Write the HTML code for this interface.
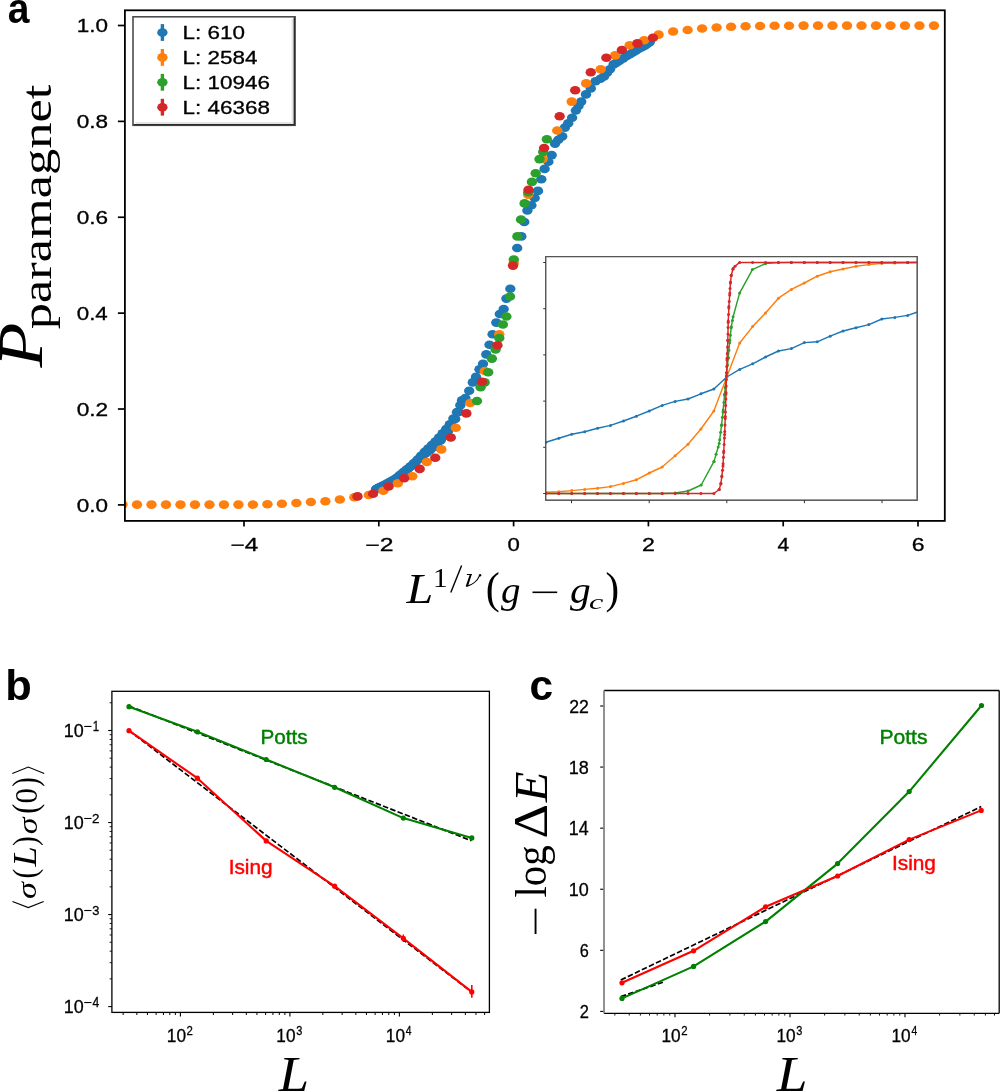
<!DOCTYPE html>
<html><head><meta charset="utf-8"><title>Figure</title><style>
html,body{margin:0;padding:0;background:#fff;width:1000px;height:1091px;overflow:hidden}
svg{display:block;will-change:transform}
</style></head><body>
<svg width="1000" height="1091" viewBox="0 0 1000 1091">
<defs><clipPath id="ca"><rect x="124.9" y="10.3" width="819.9" height="510.6"/></clipPath>
<clipPath id="cb"><rect x="112" y="691.5" width="377.6" height="320.5"/></clipPath>
<clipPath id="cc"><rect x="604" y="690.5" width="396" height="323"/></clipPath>
<clipPath id="ci"><rect x="545.7" y="256.6" width="371.5" height="243.6"/></clipPath>
</defs>
<rect x="0" y="0" width="1000" height="1091" fill="#fff"/>
<g clip-path="url(#ca)">
<g fill="#1f77b4">
<ellipse cx="376" cy="489" rx="5.2" ry="4.3"/>
<ellipse cx="377.8" cy="488.11" rx="5.2" ry="4.3"/>
<ellipse cx="379.6" cy="487.28" rx="5.2" ry="4.3"/>
<ellipse cx="381.4" cy="486.34" rx="5.2" ry="4.3"/>
<ellipse cx="383.2" cy="485.55" rx="5.2" ry="4.3"/>
<ellipse cx="385" cy="484.5" rx="5.2" ry="4.3"/>
<ellipse cx="386.8" cy="483.73" rx="5.2" ry="4.3"/>
<ellipse cx="388.6" cy="482.63" rx="5.2" ry="4.3"/>
<ellipse cx="390.4" cy="481.87" rx="5.2" ry="4.3"/>
<ellipse cx="392.2" cy="480.6" rx="5.2" ry="4.3"/>
<ellipse cx="394" cy="479.8" rx="5.2" ry="4.3"/>
<ellipse cx="395.8" cy="478.47" rx="5.2" ry="4.3"/>
<ellipse cx="397.6" cy="477.33" rx="5.2" ry="4.3"/>
<ellipse cx="399.4" cy="475.49" rx="5.2" ry="4.3"/>
<ellipse cx="401.2" cy="474.36" rx="5.2" ry="4.3"/>
<ellipse cx="403" cy="472.46" rx="5.2" ry="4.3"/>
<ellipse cx="404.8" cy="471.39" rx="5.2" ry="4.3"/>
<ellipse cx="406.6" cy="469.5" rx="5.2" ry="4.3"/>
<ellipse cx="408.4" cy="468.53" rx="5.2" ry="4.3"/>
<ellipse cx="410.2" cy="466.56" rx="5.2" ry="4.3"/>
<ellipse cx="412" cy="465.44" rx="5.2" ry="4.3"/>
<ellipse cx="413.8" cy="463.23" rx="5.2" ry="4.3"/>
<ellipse cx="415.6" cy="462.16" rx="5.2" ry="4.3"/>
<ellipse cx="417.4" cy="459.67" rx="5.2" ry="4.3"/>
<ellipse cx="419.2" cy="458.98" rx="5.2" ry="4.3"/>
<ellipse cx="421" cy="455.73" rx="5.2" ry="4.3"/>
<ellipse cx="422.8" cy="455.82" rx="5.2" ry="4.3"/>
<ellipse cx="424.6" cy="451.92" rx="5.2" ry="4.3"/>
<ellipse cx="426.4" cy="453.01" rx="5.2" ry="4.3"/>
<ellipse cx="428.2" cy="448.44" rx="5.2" ry="4.3"/>
<ellipse cx="430" cy="450.3" rx="5.2" ry="4.3"/>
<ellipse cx="431.8" cy="444.96" rx="5.2" ry="4.3"/>
<ellipse cx="433.6" cy="447.19" rx="5.2" ry="4.3"/>
<ellipse cx="435.4" cy="441.47" rx="5.2" ry="4.3"/>
<ellipse cx="437.2" cy="443.89" rx="5.2" ry="4.3"/>
<ellipse cx="439" cy="437.52" rx="5.2" ry="4.3"/>
<ellipse cx="440.8" cy="440.22" rx="5.2" ry="4.3"/>
<ellipse cx="442.6" cy="433.39" rx="5.2" ry="4.3"/>
<ellipse cx="444.4" cy="435.78" rx="5.2" ry="4.3"/>
<ellipse cx="446.2" cy="429.02" rx="5.2" ry="4.3"/>
<ellipse cx="448" cy="430.9" rx="5.2" ry="4.3"/>
<ellipse cx="449.8" cy="424.25" rx="5.2" ry="4.3"/>
<ellipse cx="451.6" cy="425.65" rx="5.2" ry="4.3"/>
<ellipse cx="453.4" cy="418.54" rx="5.2" ry="4.3"/>
<ellipse cx="455.2" cy="418.89" rx="5.2" ry="4.3"/>
<ellipse cx="457" cy="412.15" rx="5.2" ry="4.3"/>
<ellipse cx="458.8" cy="412.03" rx="5.2" ry="4.3"/>
<ellipse cx="460.3" cy="405.2" rx="5.2" ry="4.3"/>
<ellipse cx="462" cy="400.4" rx="5.2" ry="4.3"/>
<ellipse cx="465.4" cy="398.1" rx="5.2" ry="4.3"/>
<ellipse cx="469.2" cy="390.8" rx="5.2" ry="4.3"/>
<ellipse cx="472.8" cy="382.4" rx="5.2" ry="4.3"/>
<ellipse cx="476" cy="376.9" rx="5.2" ry="4.3"/>
<ellipse cx="479.5" cy="369.2" rx="5.2" ry="4.3"/>
<ellipse cx="483" cy="363.8" rx="5.2" ry="4.3"/>
<ellipse cx="486.3" cy="354.4" rx="5.2" ry="4.3"/>
<ellipse cx="489.5" cy="344.8" rx="5.2" ry="4.3"/>
<ellipse cx="492.6" cy="334.2" rx="5.2" ry="4.3"/>
<ellipse cx="496.3" cy="322.6" rx="5.2" ry="4.3"/>
<ellipse cx="499.8" cy="314" rx="5.2" ry="4.3"/>
<ellipse cx="503.7" cy="309" rx="5.2" ry="4.3"/>
<ellipse cx="506.4" cy="298.6" rx="5.2" ry="4.3"/>
<ellipse cx="510.3" cy="288.7" rx="5.2" ry="4.3"/>
<ellipse cx="517.2" cy="248" rx="5.2" ry="4.3"/>
<ellipse cx="521.3" cy="236.4" rx="5.2" ry="4.3"/>
<ellipse cx="524.3" cy="222" rx="5.2" ry="4.3"/>
<ellipse cx="527.4" cy="210.5" rx="5.2" ry="4.3"/>
<ellipse cx="531.4" cy="205.2" rx="5.2" ry="4.3"/>
<ellipse cx="534.7" cy="198" rx="5.2" ry="4.3"/>
<ellipse cx="538" cy="190.9" rx="5.2" ry="4.3"/>
<ellipse cx="541.3" cy="179.3" rx="5.2" ry="4.3"/>
<ellipse cx="544.6" cy="168.9" rx="5.2" ry="4.3"/>
<ellipse cx="548.4" cy="161.7" rx="5.2" ry="4.3"/>
<ellipse cx="551.7" cy="155.1" rx="5.2" ry="4.3"/>
<ellipse cx="555" cy="143.6" rx="5.2" ry="4.3"/>
<ellipse cx="558.3" cy="139.7" rx="5.2" ry="4.3"/>
<ellipse cx="562.2" cy="136.4" rx="5.2" ry="4.3"/>
<ellipse cx="564.9" cy="127.6" rx="5.2" ry="4.3"/>
<ellipse cx="568.2" cy="123.2" rx="5.2" ry="4.3"/>
<ellipse cx="572.1" cy="117.7" rx="5.2" ry="4.3"/>
<ellipse cx="575.9" cy="110.5" rx="5.2" ry="4.3"/>
<ellipse cx="578.5" cy="106" rx="5.2" ry="4.3"/>
<ellipse cx="581.2" cy="101.6" rx="5.2" ry="4.3"/>
<ellipse cx="586" cy="94.4" rx="5.2" ry="4.3"/>
<ellipse cx="590.8" cy="88.4" rx="5.2" ry="4.3"/>
<ellipse cx="595.6" cy="81.2" rx="5.2" ry="4.3"/>
<ellipse cx="600.4" cy="78.8" rx="5.2" ry="4.3"/>
<ellipse cx="604" cy="76.4" rx="5.2" ry="4.3"/>
<ellipse cx="607" cy="72.8" rx="5.2" ry="4.3"/>
<ellipse cx="610" cy="69.2" rx="5.2" ry="4.3"/>
<ellipse cx="613.6" cy="64.4" rx="5.2" ry="4.3"/>
<ellipse cx="616.6" cy="62.6" rx="5.2" ry="4.3"/>
<ellipse cx="619.6" cy="60.8" rx="5.2" ry="4.3"/>
<ellipse cx="623.2" cy="58.4" rx="5.2" ry="4.3"/>
<ellipse cx="626.8" cy="56" rx="5.2" ry="4.3"/>
<ellipse cx="629.8" cy="54.2" rx="5.2" ry="4.3"/>
<ellipse cx="632.8" cy="52.4" rx="5.2" ry="4.3"/>
<ellipse cx="635.8" cy="50.6" rx="5.2" ry="4.3"/>
<ellipse cx="638.8" cy="48.8" rx="5.2" ry="4.3"/>
<ellipse cx="641.8" cy="47.3" rx="5.2" ry="4.3"/>
<ellipse cx="644.8" cy="45.8" rx="5.2" ry="4.3"/>
<ellipse cx="647.2" cy="44" rx="5.2" ry="4.3"/>
<ellipse cx="649.6" cy="42.2" rx="5.2" ry="4.3"/>
</g>
<g fill="#ff7f0e">
<ellipse cx="122.51" cy="504.6" rx="5.2" ry="4.3"/>
<ellipse cx="137" cy="504.6" rx="5.2" ry="4.3"/>
<ellipse cx="151.49" cy="504.6" rx="5.2" ry="4.3"/>
<ellipse cx="165.98" cy="504.6" rx="5.2" ry="4.3"/>
<ellipse cx="180.47" cy="504.6" rx="5.2" ry="4.3"/>
<ellipse cx="194.96" cy="504.6" rx="5.2" ry="4.3"/>
<ellipse cx="209.45" cy="504.6" rx="5.2" ry="4.3"/>
<ellipse cx="223.94" cy="504.6" rx="5.2" ry="4.3"/>
<ellipse cx="238.43" cy="504.6" rx="5.2" ry="4.3"/>
<ellipse cx="252.92" cy="504.6" rx="5.2" ry="4.3"/>
<ellipse cx="267.41" cy="504.2" rx="5.2" ry="4.3"/>
<ellipse cx="281.9" cy="503.8" rx="5.2" ry="4.3"/>
<ellipse cx="296.39" cy="503" rx="5.2" ry="4.3"/>
<ellipse cx="310.88" cy="502" rx="5.2" ry="4.3"/>
<ellipse cx="325.37" cy="501.2" rx="5.2" ry="4.3"/>
<ellipse cx="339.86" cy="499.5" rx="5.2" ry="4.3"/>
<ellipse cx="354.35" cy="497.2" rx="5.2" ry="4.3"/>
<ellipse cx="368.84" cy="495" rx="5.2" ry="4.3"/>
<ellipse cx="383.33" cy="490.8" rx="5.2" ry="4.3"/>
<ellipse cx="397.82" cy="483.3" rx="5.2" ry="4.3"/>
<ellipse cx="412.31" cy="476.3" rx="5.2" ry="4.3"/>
<ellipse cx="426.8" cy="462" rx="5.2" ry="4.3"/>
<ellipse cx="441.29" cy="449.4" rx="5.2" ry="4.3"/>
<ellipse cx="455.78" cy="427.7" rx="5.2" ry="4.3"/>
<ellipse cx="470.27" cy="403" rx="5.2" ry="4.3"/>
<ellipse cx="484.76" cy="371" rx="5.2" ry="4.3"/>
<ellipse cx="499.25" cy="334.2" rx="5.2" ry="4.3"/>
<ellipse cx="513.74" cy="263" rx="5.2" ry="4.3"/>
<ellipse cx="528.23" cy="194.7" rx="5.2" ry="4.3"/>
<ellipse cx="542.72" cy="159" rx="5.2" ry="4.3"/>
<ellipse cx="557.21" cy="130.5" rx="5.2" ry="4.3"/>
<ellipse cx="571.7" cy="101.6" rx="5.2" ry="4.3"/>
<ellipse cx="586.19" cy="83.4" rx="5.2" ry="4.3"/>
<ellipse cx="600.68" cy="69.2" rx="5.2" ry="4.3"/>
<ellipse cx="615.17" cy="55.4" rx="5.2" ry="4.3"/>
<ellipse cx="629.66" cy="45.2" rx="5.2" ry="4.3"/>
<ellipse cx="644.15" cy="40.2" rx="5.2" ry="4.3"/>
<ellipse cx="658.64" cy="34.6" rx="5.2" ry="4.3"/>
<ellipse cx="673.13" cy="31.5" rx="5.2" ry="4.3"/>
<ellipse cx="687.62" cy="30" rx="5.2" ry="4.3"/>
<ellipse cx="702.11" cy="28.5" rx="5.2" ry="4.3"/>
<ellipse cx="716.6" cy="27.5" rx="5.2" ry="4.3"/>
<ellipse cx="731.09" cy="26.7" rx="5.2" ry="4.3"/>
<ellipse cx="745.58" cy="26.3" rx="5.2" ry="4.3"/>
<ellipse cx="760.07" cy="26" rx="5.2" ry="4.3"/>
<ellipse cx="774.56" cy="25.8" rx="5.2" ry="4.3"/>
<ellipse cx="789.05" cy="25.7" rx="5.2" ry="4.3"/>
<ellipse cx="803.54" cy="25.6" rx="5.2" ry="4.3"/>
<ellipse cx="818.03" cy="25.6" rx="5.2" ry="4.3"/>
<ellipse cx="832.52" cy="25.6" rx="5.2" ry="4.3"/>
<ellipse cx="847.01" cy="25.6" rx="5.2" ry="4.3"/>
<ellipse cx="861.5" cy="25.6" rx="5.2" ry="4.3"/>
<ellipse cx="875.99" cy="25.6" rx="5.2" ry="4.3"/>
<ellipse cx="890.48" cy="25.6" rx="5.2" ry="4.3"/>
<ellipse cx="904.97" cy="25.6" rx="5.2" ry="4.3"/>
<ellipse cx="919.46" cy="25.6" rx="5.2" ry="4.3"/>
<ellipse cx="933.95" cy="25.6" rx="5.2" ry="4.3"/>
</g>
<g fill="#2ca02c">
<ellipse cx="477" cy="401" rx="5.2" ry="4.3"/>
<ellipse cx="480.6" cy="387.2" rx="5.2" ry="4.3"/>
<ellipse cx="484.6" cy="382.4" rx="5.2" ry="4.3"/>
<ellipse cx="488.2" cy="372.2" rx="5.2" ry="4.3"/>
<ellipse cx="491.9" cy="358.6" rx="5.2" ry="4.3"/>
<ellipse cx="495.6" cy="349.4" rx="5.2" ry="4.3"/>
<ellipse cx="499.3" cy="338" rx="5.2" ry="4.3"/>
<ellipse cx="502.9" cy="324.5" rx="5.2" ry="4.3"/>
<ellipse cx="506.4" cy="316.5" rx="5.2" ry="4.3"/>
<ellipse cx="510" cy="296.5" rx="5.2" ry="4.3"/>
<ellipse cx="513.8" cy="259.5" rx="5.2" ry="4.3"/>
<ellipse cx="517.4" cy="236.4" rx="5.2" ry="4.3"/>
<ellipse cx="521" cy="219.5" rx="5.2" ry="4.3"/>
<ellipse cx="524.6" cy="203.4" rx="5.2" ry="4.3"/>
<ellipse cx="528.3" cy="192.3" rx="5.2" ry="4.3"/>
<ellipse cx="531.9" cy="181.9" rx="5.2" ry="4.3"/>
<ellipse cx="535.7" cy="173.2" rx="5.2" ry="4.3"/>
<ellipse cx="539.5" cy="159.1" rx="5.2" ry="4.3"/>
<ellipse cx="543.2" cy="152" rx="5.2" ry="4.3"/>
<ellipse cx="546.9" cy="139.2" rx="5.2" ry="4.3"/>
</g>
<g fill="#d62728">
<ellipse cx="357.5" cy="496.4" rx="5.2" ry="4.3"/>
<ellipse cx="373.05" cy="493.8" rx="5.2" ry="4.3"/>
<ellipse cx="388.6" cy="486.5" rx="5.2" ry="4.3"/>
<ellipse cx="404.15" cy="478.2" rx="5.2" ry="4.3"/>
<ellipse cx="419.7" cy="468.9" rx="5.2" ry="4.3"/>
<ellipse cx="435.25" cy="457.8" rx="5.2" ry="4.3"/>
<ellipse cx="450.8" cy="437.5" rx="5.2" ry="4.3"/>
<ellipse cx="466.35" cy="413.4" rx="5.2" ry="4.3"/>
<ellipse cx="481.9" cy="381.8" rx="5.2" ry="4.3"/>
<ellipse cx="497.45" cy="345.2" rx="5.2" ry="4.3"/>
<ellipse cx="513" cy="265.6" rx="5.2" ry="4.3"/>
<ellipse cx="528.55" cy="189.8" rx="5.2" ry="4.3"/>
<ellipse cx="544.1" cy="148" rx="5.2" ry="4.3"/>
<ellipse cx="559.65" cy="116.2" rx="5.2" ry="4.3"/>
<ellipse cx="575.2" cy="90.2" rx="5.2" ry="4.3"/>
<ellipse cx="590.75" cy="72.2" rx="5.2" ry="4.3"/>
<ellipse cx="606.3" cy="57.8" rx="5.2" ry="4.3"/>
<ellipse cx="621.85" cy="50" rx="5.2" ry="4.3"/>
<ellipse cx="637.4" cy="43.4" rx="5.2" ry="4.3"/>
<ellipse cx="652.95" cy="37.8" rx="5.2" ry="4.3"/>
</g>
</g>
<rect x="545.7" y="256.6" width="371.5" height="243.6" fill="#fff" stroke="#555" stroke-width="1.1"/>
<g clip-path="url(#ci)">
<path d="M545.9 442.2 L558.82 438.2 L571.74 434.2 L584.66 431.8 L597.58 428.2 L610.5 425.4 L623.42 421 L636.34 416.2 L649.26 411 L662.18 405.4 L675.1 401.4 L688.02 399 L700.94 393.8 L713.86 389 L726.78 377 L739.7 369.4 L752.62 363.8 L765.54 357 L778.46 351 L791.38 348.6 L804.3 342.6 L817.22 341.8 L830.14 336.2 L843.06 331 L855.98 327.8 L868.9 324.6 L881.82 319 L894.74 317.4 L907.66 315.4 L920.58 311" fill="none" stroke="#1f77b4" stroke-width="1.45" stroke-linejoin="round"/>
<g fill="#1f77b4">
<circle cx="545.9" cy="442.2" r="1.5"/>
<circle cx="558.82" cy="438.2" r="1.5"/>
<circle cx="571.74" cy="434.2" r="1.5"/>
<circle cx="584.66" cy="431.8" r="1.5"/>
<circle cx="597.58" cy="428.2" r="1.5"/>
<circle cx="610.5" cy="425.4" r="1.5"/>
<circle cx="623.42" cy="421" r="1.5"/>
<circle cx="636.34" cy="416.2" r="1.5"/>
<circle cx="649.26" cy="411" r="1.5"/>
<circle cx="662.18" cy="405.4" r="1.5"/>
<circle cx="675.1" cy="401.4" r="1.5"/>
<circle cx="688.02" cy="399" r="1.5"/>
<circle cx="700.94" cy="393.8" r="1.5"/>
<circle cx="713.86" cy="389" r="1.5"/>
<circle cx="726.78" cy="377" r="1.5"/>
<circle cx="739.7" cy="369.4" r="1.5"/>
<circle cx="752.62" cy="363.8" r="1.5"/>
<circle cx="765.54" cy="357" r="1.5"/>
<circle cx="778.46" cy="351" r="1.5"/>
<circle cx="791.38" cy="348.6" r="1.5"/>
<circle cx="804.3" cy="342.6" r="1.5"/>
<circle cx="817.22" cy="341.8" r="1.5"/>
<circle cx="830.14" cy="336.2" r="1.5"/>
<circle cx="843.06" cy="331" r="1.5"/>
<circle cx="855.98" cy="327.8" r="1.5"/>
<circle cx="868.9" cy="324.6" r="1.5"/>
<circle cx="881.82" cy="319" r="1.5"/>
<circle cx="894.74" cy="317.4" r="1.5"/>
<circle cx="907.66" cy="315.4" r="1.5"/>
<circle cx="920.58" cy="311" r="1.5"/>
</g>
<path d="M545.9 492.2 L558.82 491.8 L571.74 490.6 L584.66 489.4 L597.58 488.2 L610.5 486.6 L623.42 483.4 L636.34 479.8 L649.26 473 L662.18 467 L675.1 455.8 L688.02 444.2 L700.94 429 L713.86 411 L726.78 377 L739.7 343 L752.62 326.6 L765.54 313 L778.46 298.2 L791.38 289.4 L804.3 283 L817.22 276.2 L830.14 271.8 L843.06 269 L855.98 266.2 L868.9 264.6 L881.82 263.4 L894.74 263 L907.66 262.6 L920.58 262.1" fill="none" stroke="#ff7f0e" stroke-width="1.45" stroke-linejoin="round"/>
<g fill="#ff7f0e">
<circle cx="545.9" cy="492.2" r="1.5"/>
<circle cx="558.82" cy="491.8" r="1.5"/>
<circle cx="571.74" cy="490.6" r="1.5"/>
<circle cx="584.66" cy="489.4" r="1.5"/>
<circle cx="597.58" cy="488.2" r="1.5"/>
<circle cx="610.5" cy="486.6" r="1.5"/>
<circle cx="623.42" cy="483.4" r="1.5"/>
<circle cx="636.34" cy="479.8" r="1.5"/>
<circle cx="649.26" cy="473" r="1.5"/>
<circle cx="662.18" cy="467" r="1.5"/>
<circle cx="675.1" cy="455.8" r="1.5"/>
<circle cx="688.02" cy="444.2" r="1.5"/>
<circle cx="700.94" cy="429" r="1.5"/>
<circle cx="713.86" cy="411" r="1.5"/>
<circle cx="726.78" cy="377" r="1.5"/>
<circle cx="739.7" cy="343" r="1.5"/>
<circle cx="752.62" cy="326.6" r="1.5"/>
<circle cx="765.54" cy="313" r="1.5"/>
<circle cx="778.46" cy="298.2" r="1.5"/>
<circle cx="791.38" cy="289.4" r="1.5"/>
<circle cx="804.3" cy="283" r="1.5"/>
<circle cx="817.22" cy="276.2" r="1.5"/>
<circle cx="830.14" cy="271.8" r="1.5"/>
<circle cx="843.06" cy="269" r="1.5"/>
<circle cx="855.98" cy="266.2" r="1.5"/>
<circle cx="868.9" cy="264.6" r="1.5"/>
<circle cx="881.82" cy="263.4" r="1.5"/>
<circle cx="894.74" cy="263" r="1.5"/>
<circle cx="907.66" cy="262.6" r="1.5"/>
<circle cx="920.58" cy="262.1" r="1.5"/>
</g>
<path d="M545.9 493.5 L558.82 493.5 L571.74 493.5 L584.66 493.5 L597.58 493.5 L610.5 493.5 L623.42 493.5 L636.34 493.5 L649.26 493.5 L662.18 493.5 L675.2 493 L688 491 L701.2 485 L714 461.4 L719.2 443.5 L721.5 425.5 L723 412 L724.6 394 L726.4 376 L728.2 358.2 L729.8 340.3 L731.3 326.8 L733.1 316.7 L739.6 293.1 L752.4 269.6 L765.6 263.5 L778.4 262.6 L791.38 262.4 L804.3 262.4 L817.22 262.4 L830.14 262.4 L843.06 262.4 L855.98 262.4 L868.9 262.4 L881.82 262.4 L894.74 262.4 L907.66 262.4 L920.58 262.4" fill="none" stroke="#2ca02c" stroke-width="1.45" stroke-linejoin="round"/>
<g fill="#2ca02c">
<circle cx="545.9" cy="493.5" r="1.5"/>
<circle cx="558.82" cy="493.5" r="1.5"/>
<circle cx="571.74" cy="493.5" r="1.5"/>
<circle cx="584.66" cy="493.5" r="1.5"/>
<circle cx="597.58" cy="493.5" r="1.5"/>
<circle cx="610.5" cy="493.5" r="1.5"/>
<circle cx="623.42" cy="493.5" r="1.5"/>
<circle cx="636.34" cy="493.5" r="1.5"/>
<circle cx="649.26" cy="493.5" r="1.5"/>
<circle cx="662.18" cy="493.5" r="1.5"/>
<circle cx="675.2" cy="493" r="1.5"/>
<circle cx="688" cy="491" r="1.5"/>
<circle cx="701.2" cy="485" r="1.5"/>
<circle cx="714" cy="461.4" r="1.5"/>
<circle cx="719.2" cy="443.5" r="1.5"/>
<circle cx="721.5" cy="425.5" r="1.5"/>
<circle cx="723" cy="412" r="1.5"/>
<circle cx="724.6" cy="394" r="1.5"/>
<circle cx="726.4" cy="376" r="1.5"/>
<circle cx="728.2" cy="358.2" r="1.5"/>
<circle cx="729.8" cy="340.3" r="1.5"/>
<circle cx="731.3" cy="326.8" r="1.5"/>
<circle cx="733.1" cy="316.7" r="1.5"/>
<circle cx="739.6" cy="293.1" r="1.5"/>
<circle cx="752.4" cy="269.6" r="1.5"/>
<circle cx="765.6" cy="263.5" r="1.5"/>
<circle cx="778.4" cy="262.6" r="1.5"/>
<circle cx="791.38" cy="262.4" r="1.5"/>
<circle cx="804.3" cy="262.4" r="1.5"/>
<circle cx="817.22" cy="262.4" r="1.5"/>
<circle cx="830.14" cy="262.4" r="1.5"/>
<circle cx="843.06" cy="262.4" r="1.5"/>
<circle cx="855.98" cy="262.4" r="1.5"/>
<circle cx="868.9" cy="262.4" r="1.5"/>
<circle cx="881.82" cy="262.4" r="1.5"/>
<circle cx="894.74" cy="262.4" r="1.5"/>
<circle cx="907.66" cy="262.4" r="1.5"/>
<circle cx="920.58" cy="262.4" r="1.5"/>
<circle cx="714" cy="461.4" r="1.5"/>
<circle cx="716.09" cy="454.2" r="1.5"/>
<circle cx="718.18" cy="447" r="1.5"/>
<circle cx="719.69" cy="439.67" r="1.5"/>
<circle cx="720.64" cy="432.23" r="1.5"/>
<circle cx="721.58" cy="424.79" r="1.5"/>
<circle cx="722.41" cy="417.34" r="1.5"/>
<circle cx="723.19" cy="409.88" r="1.5"/>
<circle cx="723.85" cy="402.41" r="1.5"/>
<circle cx="724.52" cy="394.94" r="1.5"/>
<circle cx="725.25" cy="387.47" r="1.5"/>
<circle cx="726" cy="380.01" r="1.5"/>
<circle cx="726.75" cy="372.55" r="1.5"/>
<circle cx="727.5" cy="365.09" r="1.5"/>
<circle cx="728.25" cy="357.62" r="1.5"/>
<circle cx="728.92" cy="350.15" r="1.5"/>
<circle cx="729.59" cy="342.68" r="1.5"/>
<circle cx="730.36" cy="335.22" r="1.5"/>
<circle cx="731.19" cy="327.77" r="1.5"/>
<circle cx="732.44" cy="320.38" r="1.5"/>
</g>
<path d="M545.9 493.5 L558.82 493.5 L571.74 493.5 L584.66 493.5 L597.58 493.5 L610.5 493.5 L623.42 493.5 L636.34 493.5 L649.26 493.5 L662.18 493.5 L675.1 493.5 L688.02 493.5 L700.94 493.5 L713.86 493.5 L719.2 489.5 L720.8 483.9 L721.9 476 L723 466 L723.7 452.4 L724.6 434.5 L725.3 416.5 L726 394 L726.4 376 L727.1 358.2 L727.8 340.3 L728.2 322.3 L728.9 306.6 L729.8 293.1 L730.4 283 L731.3 275.2 L733.1 268.5 L735 266.2 L739.6 262.4 L752.62 262.4 L765.54 262.4 L778.46 262.4 L791.38 262.4 L804.3 262.4 L817.22 262.4 L830.14 262.4 L843.06 262.4 L855.98 262.4 L868.9 262.4 L881.82 262.4 L894.74 262.4 L907.66 262.4 L920.58 262.4" fill="none" stroke="#d62728" stroke-width="1.45" stroke-linejoin="round"/>
<g fill="#d62728">
<circle cx="545.9" cy="493.5" r="1.5"/>
<circle cx="558.82" cy="493.5" r="1.5"/>
<circle cx="571.74" cy="493.5" r="1.5"/>
<circle cx="584.66" cy="493.5" r="1.5"/>
<circle cx="597.58" cy="493.5" r="1.5"/>
<circle cx="610.5" cy="493.5" r="1.5"/>
<circle cx="623.42" cy="493.5" r="1.5"/>
<circle cx="636.34" cy="493.5" r="1.5"/>
<circle cx="649.26" cy="493.5" r="1.5"/>
<circle cx="662.18" cy="493.5" r="1.5"/>
<circle cx="675.1" cy="493.5" r="1.5"/>
<circle cx="688.02" cy="493.5" r="1.5"/>
<circle cx="700.94" cy="493.5" r="1.5"/>
<circle cx="713.86" cy="493.5" r="1.5"/>
<circle cx="719.2" cy="489.5" r="1.5"/>
<circle cx="720.8" cy="483.9" r="1.5"/>
<circle cx="721.9" cy="476" r="1.5"/>
<circle cx="723" cy="466" r="1.5"/>
<circle cx="723.7" cy="452.4" r="1.5"/>
<circle cx="724.6" cy="434.5" r="1.5"/>
<circle cx="725.3" cy="416.5" r="1.5"/>
<circle cx="726" cy="394" r="1.5"/>
<circle cx="726.4" cy="376" r="1.5"/>
<circle cx="727.1" cy="358.2" r="1.5"/>
<circle cx="727.8" cy="340.3" r="1.5"/>
<circle cx="728.2" cy="322.3" r="1.5"/>
<circle cx="728.9" cy="306.6" r="1.5"/>
<circle cx="729.8" cy="293.1" r="1.5"/>
<circle cx="730.4" cy="283" r="1.5"/>
<circle cx="731.3" cy="275.2" r="1.5"/>
<circle cx="733.1" cy="268.5" r="1.5"/>
<circle cx="735" cy="266.2" r="1.5"/>
<circle cx="739.6" cy="262.4" r="1.5"/>
<circle cx="752.62" cy="262.4" r="1.5"/>
<circle cx="765.54" cy="262.4" r="1.5"/>
<circle cx="778.46" cy="262.4" r="1.5"/>
<circle cx="791.38" cy="262.4" r="1.5"/>
<circle cx="804.3" cy="262.4" r="1.5"/>
<circle cx="817.22" cy="262.4" r="1.5"/>
<circle cx="830.14" cy="262.4" r="1.5"/>
<circle cx="843.06" cy="262.4" r="1.5"/>
<circle cx="855.98" cy="262.4" r="1.5"/>
<circle cx="868.9" cy="262.4" r="1.5"/>
<circle cx="881.82" cy="262.4" r="1.5"/>
<circle cx="894.74" cy="262.4" r="1.5"/>
<circle cx="907.66" cy="262.4" r="1.5"/>
<circle cx="920.58" cy="262.4" r="1.5"/>
<circle cx="719.2" cy="489.5" r="1.5"/>
<circle cx="720.89" cy="483.23" r="1.5"/>
<circle cx="721.79" cy="476.79" r="1.5"/>
<circle cx="722.52" cy="470.33" r="1.5"/>
<circle cx="723.11" cy="463.86" r="1.5"/>
<circle cx="723.44" cy="457.37" r="1.5"/>
<circle cx="723.78" cy="450.88" r="1.5"/>
<circle cx="724.1" cy="444.39" r="1.5"/>
<circle cx="724.43" cy="437.9" r="1.5"/>
<circle cx="724.72" cy="431.4" r="1.5"/>
<circle cx="724.97" cy="424.91" r="1.5"/>
<circle cx="725.23" cy="418.41" r="1.5"/>
<circle cx="725.44" cy="411.92" r="1.5"/>
<circle cx="725.64" cy="405.42" r="1.5"/>
<circle cx="725.85" cy="398.92" r="1.5"/>
<circle cx="726.03" cy="392.43" r="1.5"/>
<circle cx="726.18" cy="385.93" r="1.5"/>
<circle cx="726.32" cy="379.43" r="1.5"/>
<circle cx="726.52" cy="372.93" r="1.5"/>
<circle cx="726.78" cy="366.44" r="1.5"/>
<circle cx="727.03" cy="359.94" r="1.5"/>
<circle cx="727.29" cy="353.45" r="1.5"/>
<circle cx="727.54" cy="346.95" r="1.5"/>
<circle cx="727.79" cy="340.46" r="1.5"/>
<circle cx="727.94" cy="333.96" r="1.5"/>
<circle cx="728.09" cy="327.46" r="1.5"/>
<circle cx="728.26" cy="320.96" r="1.5"/>
<circle cx="728.55" cy="314.47" r="1.5"/>
<circle cx="728.84" cy="307.98" r="1.5"/>
<circle cx="729.24" cy="301.49" r="1.5"/>
<circle cx="729.67" cy="295" r="1.5"/>
<circle cx="730.07" cy="288.52" r="1.5"/>
<circle cx="730.51" cy="282.03" r="1.5"/>
<circle cx="731.26" cy="275.57" r="1.5"/>
<circle cx="732.89" cy="269.29" r="1.5"/>
</g>
</g>
<rect x="545.7" y="256.6" width="371.5" height="243.6" fill="none" stroke="#555" stroke-width="1.1"/>
<line x1="543.2" y1="493.5" x2="545.7" y2="493.5" stroke="#333" stroke-width="1"/>
<line x1="543.2" y1="447.3" x2="545.7" y2="447.3" stroke="#333" stroke-width="1"/>
<line x1="543.2" y1="401.1" x2="545.7" y2="401.1" stroke="#333" stroke-width="1"/>
<line x1="543.2" y1="354.9" x2="545.7" y2="354.9" stroke="#333" stroke-width="1"/>
<line x1="543.2" y1="308.7" x2="545.7" y2="308.7" stroke="#333" stroke-width="1"/>
<line x1="543.2" y1="262.5" x2="545.7" y2="262.5" stroke="#333" stroke-width="1"/>
<line x1="571.5" y1="500.2" x2="571.5" y2="503.2" stroke="#333" stroke-width="1"/>
<line x1="649.2" y1="500.2" x2="649.2" y2="503.2" stroke="#333" stroke-width="1"/>
<line x1="726.8" y1="500.2" x2="726.8" y2="503.2" stroke="#333" stroke-width="1"/>
<line x1="804.4" y1="500.2" x2="804.4" y2="503.2" stroke="#333" stroke-width="1"/>
<line x1="882" y1="500.2" x2="882" y2="503.2" stroke="#333" stroke-width="1"/>
<rect x="124.9" y="10.3" width="819.9" height="510.6" fill="none" stroke="#000" stroke-width="1.8"/>
<line x1="117.9" y1="504.9" x2="124.9" y2="504.9" stroke="#000" stroke-width="1.7"/>
<text transform="translate(76.72 511.57) scale(1.2389 1)" style="font-family:&quot;Liberation Sans&quot;,serif;font-size:18.15px" fill="#000" stroke="#000" stroke-width="0.3">0.0</text>
<line x1="117.9" y1="409.02" x2="124.9" y2="409.02" stroke="#000" stroke-width="1.7"/>
<text transform="translate(76.71 415.69) scale(1.2495 1)" style="font-family:&quot;Liberation Sans&quot;,serif;font-size:18.15px" fill="#000" stroke="#000" stroke-width="0.3">0.2</text>
<line x1="117.9" y1="313.14" x2="124.9" y2="313.14" stroke="#000" stroke-width="1.7"/>
<text transform="translate(76.73 319.81) scale(1.2297 1)" style="font-family:&quot;Liberation Sans&quot;,serif;font-size:18.15px" fill="#000" stroke="#000" stroke-width="0.3">0.4</text>
<line x1="117.9" y1="217.26" x2="124.9" y2="217.26" stroke="#000" stroke-width="1.7"/>
<text transform="translate(76.72 223.93) scale(1.2435 1)" style="font-family:&quot;Liberation Sans&quot;,serif;font-size:18.15px" fill="#000" stroke="#000" stroke-width="0.3">0.6</text>
<line x1="117.9" y1="121.38" x2="124.9" y2="121.38" stroke="#000" stroke-width="1.7"/>
<text transform="translate(76.72 128.05) scale(1.2430 1)" style="font-family:&quot;Liberation Sans&quot;,serif;font-size:18.15px" fill="#000" stroke="#000" stroke-width="0.3">0.8</text>
<line x1="117.9" y1="25.5" x2="124.9" y2="25.5" stroke="#000" stroke-width="1.7"/>
<text transform="translate(76.69 32.17) scale(1.2403 1)" style="font-family:&quot;Liberation Sans&quot;,serif;font-size:18.15px" fill="#000" stroke="#000" stroke-width="0.3">1.0</text>
<line x1="244" y1="520.9" x2="244" y2="526.4" stroke="#000" stroke-width="1.7"/>
<text transform="translate(230.50 550.90) scale(1.3485 1)" style="font-family:&quot;Liberation Sans&quot;,serif;font-size:18.02px" fill="#000" stroke="#000" stroke-width="0.3">−4</text>
<line x1="378.8" y1="520.9" x2="378.8" y2="526.4" stroke="#000" stroke-width="1.7"/>
<text transform="translate(365.28 550.90) scale(1.3962 1)" style="font-family:&quot;Liberation Sans&quot;,serif;font-size:17.76px" fill="#000" stroke="#000" stroke-width="0.3">−2</text>
<line x1="513.6" y1="520.9" x2="513.6" y2="526.4" stroke="#000" stroke-width="1.7"/>
<text transform="translate(507.53 550.73) scale(1.2661 1)" style="font-family:&quot;Liberation Sans&quot;,serif;font-size:17.51px" fill="#000" stroke="#000" stroke-width="0.3">0</text>
<line x1="648.4" y1="520.9" x2="648.4" y2="526.4" stroke="#000" stroke-width="1.7"/>
<text transform="translate(642.03 550.90) scale(1.3102 1)" style="font-family:&quot;Liberation Sans&quot;,serif;font-size:17.76px" fill="#000" stroke="#000" stroke-width="0.3">2</text>
<line x1="783.2" y1="520.9" x2="783.2" y2="526.4" stroke="#000" stroke-width="1.7"/>
<text transform="translate(777.52 550.90) scale(1.1671 1)" style="font-family:&quot;Liberation Sans&quot;,serif;font-size:18.02px" fill="#000" stroke="#000" stroke-width="0.3">4</text>
<line x1="918" y1="520.9" x2="918" y2="526.4" stroke="#000" stroke-width="1.7"/>
<text transform="translate(911.63 550.73) scale(1.3117 1)" style="font-family:&quot;Liberation Sans&quot;,serif;font-size:17.51px" fill="#000" stroke="#000" stroke-width="0.3">6</text>
<rect x="133" y="16.8" width="162.1" height="108.5" fill="#fff" stroke="#4d4d4d" stroke-width="1.6"/>
<path d="M292.6 19 L292.6 122.9 L135.5 122.9" fill="none" stroke="#e4e4e4" stroke-width="2"/>
<path d="M294.3 17.6 L294.3 124.6 L133.8 124.6" fill="none" stroke="#2a2a2a" stroke-width="1.4"/>
<line x1="162.4" y1="24.1" x2="162.4" y2="40.9" stroke="#1f77b4" stroke-width="3.4"/>
<ellipse cx="162.4" cy="32.5" rx="5.2" ry="4.3" fill="#1f77b4"/>
<text transform="translate(182.56 38.80) scale(1.2060 1)" style="font-family:&quot;Liberation Sans&quot;,sans-serif;font-size:18.62px" stroke="#000" stroke-width="0.3">L: 610</text>
<line x1="162.4" y1="49" x2="162.4" y2="65.8" stroke="#ff7f0e" stroke-width="3.4"/>
<ellipse cx="162.4" cy="57.4" rx="5.2" ry="4.3" fill="#ff7f0e"/>
<text transform="translate(182.56 63.70) scale(1.2060 1)" style="font-family:&quot;Liberation Sans&quot;,sans-serif;font-size:18.62px" stroke="#000" stroke-width="0.3">L: 2584</text>
<line x1="162.4" y1="73.9" x2="162.4" y2="90.7" stroke="#2ca02c" stroke-width="3.4"/>
<ellipse cx="162.4" cy="82.3" rx="5.2" ry="4.3" fill="#2ca02c"/>
<text transform="translate(182.56 88.60) scale(1.2060 1)" style="font-family:&quot;Liberation Sans&quot;,sans-serif;font-size:18.62px" stroke="#000" stroke-width="0.3">L: 10946</text>
<line x1="162.4" y1="98.8" x2="162.4" y2="115.6" stroke="#d62728" stroke-width="3.4"/>
<ellipse cx="162.4" cy="107.2" rx="5.2" ry="4.3" fill="#d62728"/>
<text transform="translate(182.56 113.50) scale(1.2060 1)" style="font-family:&quot;Liberation Sans&quot;,sans-serif;font-size:18.62px" stroke="#000" stroke-width="0.3">L: 46368</text>
<text transform="translate(7.76 22.68) scale(0.9133 1)" style="font-family:&quot;Liberation Sans&quot;,serif;font-size:42.71px;font-weight:bold" fill="#000">a</text>
<g clip-path="url(#cb)">
<line x1="129" y1="706" x2="471.5" y2="840.8" stroke="#000" stroke-width="1.7" stroke-dasharray="5.5 2.3"/>
<line x1="129" y1="730.5" x2="472" y2="992.3" stroke="#000" stroke-width="1.7" stroke-dasharray="5.5 2.3"/>
<path d="M129 706.7 L197.4 731.8 L266.2 759.5 L334.6 787.3 L403.3 818.1 L471.8 837.9" fill="none" stroke="#008000" stroke-width="2.1" stroke-linejoin="round"/>
<circle cx="129" cy="706.7" r="2.6" fill="#008000"/>
<circle cx="197.4" cy="731.8" r="2.6" fill="#008000"/>
<circle cx="266.2" cy="759.5" r="2.6" fill="#008000"/>
<circle cx="334.6" cy="787.3" r="2.6" fill="#008000"/>
<circle cx="403.3" cy="818.1" r="2.6" fill="#008000"/>
<circle cx="471.8" cy="837.9" r="2.6" fill="#008000"/>
<path d="M129 730.7 L197.4 778.2 L266.2 840.9 L334.6 886.2 L403.3 938.3 L471.8 991.9" fill="none" stroke="#ff0000" stroke-width="2.1" stroke-linejoin="round"/>
<circle cx="129" cy="730.7" r="2.6" fill="#ff0000"/>
<circle cx="197.4" cy="778.2" r="2.6" fill="#ff0000"/>
<circle cx="266.2" cy="840.9" r="2.6" fill="#ff0000"/>
<circle cx="334.6" cy="886.2" r="2.6" fill="#ff0000"/>
<circle cx="403.3" cy="938.3" r="2.6" fill="#ff0000"/>
<circle cx="471.8" cy="991.9" r="2.6" fill="#ff0000"/>
<line x1="471.8" y1="985" x2="471.8" y2="997.8" stroke="#ff0000" stroke-width="1.6"/>
<line x1="403.3" y1="934.5" x2="403.3" y2="942" stroke="#ff0000" stroke-width="1.4"/>
</g>
<rect x="111.9" y="691.3" width="377.5" height="321.1" fill="none" stroke="#000" stroke-width="1.3"/>
<line x1="108.2" y1="730.5" x2="111.9" y2="730.5" stroke="#000" stroke-width="1.1"/>
<text transform="translate(63.73 736.97) scale(0.9740 1)" style="font-family:&quot;Liberation Sans&quot;,serif;font-size:18.43px" fill="#000" stroke="#000" stroke-width="0.3">10</text>
<rect x="84.25" y="725.9" width="7.25" height="1.1" fill="#000"/>
<text transform="translate(92.83 730.65) scale(0.8271 1)" style="font-family:&quot;Liberation Sans&quot;,serif;font-size:13.88px" fill="#000" stroke="#000" stroke-width="0.3">1</text>
<line x1="109.6" y1="702.8" x2="111.9" y2="702.8" stroke="#000" stroke-width="0.9"/>
<line x1="108.2" y1="822.53" x2="111.9" y2="822.53" stroke="#000" stroke-width="1.1"/>
<text transform="translate(63.73 829.00) scale(0.9740 1)" style="font-family:&quot;Liberation Sans&quot;,serif;font-size:18.43px" fill="#000" stroke="#000" stroke-width="0.3">10</text>
<rect x="84.25" y="817.93" width="7.25" height="1.1" fill="#000"/>
<text transform="translate(92.03 822.68) scale(0.9790 1)" style="font-family:&quot;Liberation Sans&quot;,serif;font-size:13.68px" fill="#000" stroke="#000" stroke-width="0.3">2</text>
<line x1="109.6" y1="794.83" x2="111.9" y2="794.83" stroke="#000" stroke-width="0.9"/>
<line x1="109.6" y1="778.62" x2="111.9" y2="778.62" stroke="#000" stroke-width="0.9"/>
<line x1="109.6" y1="767.12" x2="111.9" y2="767.12" stroke="#000" stroke-width="0.9"/>
<line x1="109.6" y1="758.2" x2="111.9" y2="758.2" stroke="#000" stroke-width="0.9"/>
<line x1="109.6" y1="750.92" x2="111.9" y2="750.92" stroke="#000" stroke-width="0.9"/>
<line x1="109.6" y1="744.76" x2="111.9" y2="744.76" stroke="#000" stroke-width="0.9"/>
<line x1="109.6" y1="739.42" x2="111.9" y2="739.42" stroke="#000" stroke-width="0.9"/>
<line x1="109.6" y1="734.71" x2="111.9" y2="734.71" stroke="#000" stroke-width="0.9"/>
<line x1="108.2" y1="914.56" x2="111.9" y2="914.56" stroke="#000" stroke-width="1.1"/>
<text transform="translate(63.73 921.03) scale(0.9740 1)" style="font-family:&quot;Liberation Sans&quot;,serif;font-size:18.43px" fill="#000" stroke="#000" stroke-width="0.3">10</text>
<rect x="84.25" y="909.96" width="7.25" height="1.1" fill="#000"/>
<text transform="translate(92.21 914.58) scale(0.9538 1)" style="font-family:&quot;Liberation Sans&quot;,serif;font-size:13.49px" fill="#000" stroke="#000" stroke-width="0.3">3</text>
<line x1="109.6" y1="886.86" x2="111.9" y2="886.86" stroke="#000" stroke-width="0.9"/>
<line x1="109.6" y1="870.65" x2="111.9" y2="870.65" stroke="#000" stroke-width="0.9"/>
<line x1="109.6" y1="859.15" x2="111.9" y2="859.15" stroke="#000" stroke-width="0.9"/>
<line x1="109.6" y1="850.23" x2="111.9" y2="850.23" stroke="#000" stroke-width="0.9"/>
<line x1="109.6" y1="842.95" x2="111.9" y2="842.95" stroke="#000" stroke-width="0.9"/>
<line x1="109.6" y1="836.79" x2="111.9" y2="836.79" stroke="#000" stroke-width="0.9"/>
<line x1="109.6" y1="831.45" x2="111.9" y2="831.45" stroke="#000" stroke-width="0.9"/>
<line x1="109.6" y1="826.74" x2="111.9" y2="826.74" stroke="#000" stroke-width="0.9"/>
<line x1="108.2" y1="1006.59" x2="111.9" y2="1006.59" stroke="#000" stroke-width="1.1"/>
<text transform="translate(63.73 1013.06) scale(0.9740 1)" style="font-family:&quot;Liberation Sans&quot;,serif;font-size:18.43px" fill="#000" stroke="#000" stroke-width="0.3">10</text>
<rect x="84.25" y="1001.99" width="7.25" height="1.1" fill="#000"/>
<text transform="translate(92.42 1006.74) scale(0.8721 1)" style="font-family:&quot;Liberation Sans&quot;,serif;font-size:13.88px" fill="#000" stroke="#000" stroke-width="0.3">4</text>
<line x1="109.6" y1="978.89" x2="111.9" y2="978.89" stroke="#000" stroke-width="0.9"/>
<line x1="109.6" y1="962.68" x2="111.9" y2="962.68" stroke="#000" stroke-width="0.9"/>
<line x1="109.6" y1="951.18" x2="111.9" y2="951.18" stroke="#000" stroke-width="0.9"/>
<line x1="109.6" y1="942.26" x2="111.9" y2="942.26" stroke="#000" stroke-width="0.9"/>
<line x1="109.6" y1="934.98" x2="111.9" y2="934.98" stroke="#000" stroke-width="0.9"/>
<line x1="109.6" y1="928.82" x2="111.9" y2="928.82" stroke="#000" stroke-width="0.9"/>
<line x1="109.6" y1="923.48" x2="111.9" y2="923.48" stroke="#000" stroke-width="0.9"/>
<line x1="109.6" y1="918.77" x2="111.9" y2="918.77" stroke="#000" stroke-width="0.9"/>
<line x1="180.4" y1="1012.4" x2="180.4" y2="1016.4" stroke="#000" stroke-width="1.1"/>
<text transform="translate(166.79 1041.62) scale(0.9323 1)" style="font-family:&quot;Liberation Sans&quot;,serif;font-size:18.50px" fill="#000" stroke="#000" stroke-width="0.3">10</text>
<text transform="translate(186.53 1035.00) scale(0.8758 1)" style="font-family:&quot;Liberation Sans&quot;,serif;font-size:13.03px" fill="#000" stroke="#000" stroke-width="0.3">2</text>
<line x1="289.9" y1="1012.4" x2="289.9" y2="1016.4" stroke="#000" stroke-width="1.1"/>
<text transform="translate(276.29 1041.62) scale(0.9323 1)" style="font-family:&quot;Liberation Sans&quot;,serif;font-size:18.50px" fill="#000" stroke="#000" stroke-width="0.3">10</text>
<text transform="translate(296.18 1034.87) scale(0.8533 1)" style="font-family:&quot;Liberation Sans&quot;,serif;font-size:12.85px" fill="#000" stroke="#000" stroke-width="0.3">3</text>
<line x1="399.4" y1="1012.4" x2="399.4" y2="1016.4" stroke="#000" stroke-width="1.1"/>
<text transform="translate(385.79 1041.62) scale(0.9323 1)" style="font-family:&quot;Liberation Sans&quot;,serif;font-size:18.50px" fill="#000" stroke="#000" stroke-width="0.3">10</text>
<text transform="translate(405.86 1035.00) scale(0.7802 1)" style="font-family:&quot;Liberation Sans&quot;,serif;font-size:13.23px" fill="#000" stroke="#000" stroke-width="0.3">4</text>
<line x1="123.14" y1="1012.4" x2="123.14" y2="1015" stroke="#000" stroke-width="1"/>
<line x1="136.83" y1="1012.4" x2="136.83" y2="1015" stroke="#000" stroke-width="1"/>
<line x1="147.44" y1="1012.4" x2="147.44" y2="1015" stroke="#000" stroke-width="1"/>
<line x1="156.11" y1="1012.4" x2="156.11" y2="1015" stroke="#000" stroke-width="1"/>
<line x1="163.44" y1="1012.4" x2="163.44" y2="1015" stroke="#000" stroke-width="1"/>
<line x1="169.79" y1="1012.4" x2="169.79" y2="1015" stroke="#000" stroke-width="1"/>
<line x1="175.39" y1="1012.4" x2="175.39" y2="1015" stroke="#000" stroke-width="1"/>
<line x1="213.36" y1="1012.4" x2="213.36" y2="1015" stroke="#000" stroke-width="1"/>
<line x1="232.64" y1="1012.4" x2="232.64" y2="1015" stroke="#000" stroke-width="1"/>
<line x1="246.33" y1="1012.4" x2="246.33" y2="1015" stroke="#000" stroke-width="1"/>
<line x1="256.94" y1="1012.4" x2="256.94" y2="1015" stroke="#000" stroke-width="1"/>
<line x1="265.61" y1="1012.4" x2="265.61" y2="1015" stroke="#000" stroke-width="1"/>
<line x1="272.94" y1="1012.4" x2="272.94" y2="1015" stroke="#000" stroke-width="1"/>
<line x1="279.29" y1="1012.4" x2="279.29" y2="1015" stroke="#000" stroke-width="1"/>
<line x1="284.89" y1="1012.4" x2="284.89" y2="1015" stroke="#000" stroke-width="1"/>
<line x1="322.86" y1="1012.4" x2="322.86" y2="1015" stroke="#000" stroke-width="1"/>
<line x1="342.14" y1="1012.4" x2="342.14" y2="1015" stroke="#000" stroke-width="1"/>
<line x1="355.83" y1="1012.4" x2="355.83" y2="1015" stroke="#000" stroke-width="1"/>
<line x1="366.44" y1="1012.4" x2="366.44" y2="1015" stroke="#000" stroke-width="1"/>
<line x1="375.11" y1="1012.4" x2="375.11" y2="1015" stroke="#000" stroke-width="1"/>
<line x1="382.44" y1="1012.4" x2="382.44" y2="1015" stroke="#000" stroke-width="1"/>
<line x1="388.79" y1="1012.4" x2="388.79" y2="1015" stroke="#000" stroke-width="1"/>
<line x1="394.39" y1="1012.4" x2="394.39" y2="1015" stroke="#000" stroke-width="1"/>
<line x1="432.36" y1="1012.4" x2="432.36" y2="1015" stroke="#000" stroke-width="1"/>
<line x1="451.64" y1="1012.4" x2="451.64" y2="1015" stroke="#000" stroke-width="1"/>
<line x1="465.33" y1="1012.4" x2="465.33" y2="1015" stroke="#000" stroke-width="1"/>
<line x1="475.94" y1="1012.4" x2="475.94" y2="1015" stroke="#000" stroke-width="1"/>
<line x1="484.61" y1="1012.4" x2="484.61" y2="1015" stroke="#000" stroke-width="1"/>
<text transform="translate(260.40 744.10) scale(1.0095 1)" style="font-family:&quot;Liberation Sans&quot;,serif;font-size:20.49px" fill="#008000" stroke="#008000" stroke-width="0.45">Potts</text>
<text transform="translate(228.68 873.81) scale(1.0319 1)" style="font-family:&quot;Liberation Sans&quot;,serif;font-size:20.17px" fill="#ff0000" stroke="#ff0000" stroke-width="0.45">Ising</text>
<text transform="translate(5.24 699.79) scale(1.0430 1)" style="font-family:&quot;Liberation Sans&quot;,serif;font-size:41.67px;font-weight:bold" fill="#000">b</text>
<g clip-path="url(#cc)">
<line x1="620.8" y1="980" x2="981.2" y2="806.6" stroke="#000" stroke-width="1.7" stroke-dasharray="5.5 2.3"/>
<line x1="620.8" y1="996.6" x2="665" y2="981.6" stroke="#000" stroke-width="1.7" stroke-dasharray="5.5 2.3"/>
<path d="M622 998.4 L693.6 966.4 L765.6 921.6 L837.6 863.6 L909.2 791.6 L981.5 705.5" fill="none" stroke="#008000" stroke-width="2.1" stroke-linejoin="round"/>
<circle cx="622" cy="998.4" r="2.6" fill="#008000"/>
<circle cx="693.6" cy="966.4" r="2.6" fill="#008000"/>
<circle cx="765.6" cy="921.6" r="2.6" fill="#008000"/>
<circle cx="837.6" cy="863.6" r="2.6" fill="#008000"/>
<circle cx="909.2" cy="791.6" r="2.6" fill="#008000"/>
<circle cx="981.5" cy="705.5" r="2.6" fill="#008000"/>
<path d="M622 982.8 L693.6 950.8 L765.6 906.8 L837.6 876 L909.2 839.6 L981.2 810.4" fill="none" stroke="#ff0000" stroke-width="2.1" stroke-linejoin="round"/>
<circle cx="622" cy="982.8" r="2.6" fill="#ff0000"/>
<circle cx="693.6" cy="950.8" r="2.6" fill="#ff0000"/>
<circle cx="765.6" cy="906.8" r="2.6" fill="#ff0000"/>
<circle cx="837.6" cy="876" r="2.6" fill="#ff0000"/>
<circle cx="909.2" cy="839.6" r="2.6" fill="#ff0000"/>
<circle cx="981.2" cy="810.4" r="2.6" fill="#ff0000"/>
</g>
<line x1="604" y1="690.5" x2="999.2" y2="690.5" stroke="#000" stroke-width="1.3"/>
<line x1="604" y1="1013.3" x2="999.2" y2="1013.3" stroke="#000" stroke-width="1.3"/>
<line x1="999.2" y1="690.5" x2="999.2" y2="1013.3" stroke="#000" stroke-width="1.3"/>
<line x1="604" y1="690.5" x2="604" y2="1013.3" stroke="#858585" stroke-width="1.8"/>
<line x1="600.2" y1="1011.4" x2="603.2" y2="1011.4" stroke="#000" stroke-width="1.1"/>
<text transform="translate(579.67 1018.20) scale(0.8643 1)" style="font-family:&quot;Liberation Sans&quot;,serif;font-size:19.05px" fill="#000" stroke="#000" stroke-width="0.3">2</text>
<line x1="600.2" y1="950.32" x2="603.2" y2="950.32" stroke="#000" stroke-width="1.1"/>
<text transform="translate(579.67 956.94) scale(0.8653 1)" style="font-family:&quot;Liberation Sans&quot;,serif;font-size:18.79px" fill="#000" stroke="#000" stroke-width="0.3">6</text>
<line x1="600.2" y1="889.24" x2="603.2" y2="889.24" stroke="#000" stroke-width="1.1"/>
<text transform="translate(568.73 895.86) scale(0.9557 1)" style="font-family:&quot;Liberation Sans&quot;,serif;font-size:18.79px" fill="#000" stroke="#000" stroke-width="0.3">10</text>
<line x1="600.2" y1="828.16" x2="603.2" y2="828.16" stroke="#000" stroke-width="1.1"/>
<text transform="translate(568.75 834.96) scale(0.9197 1)" style="font-family:&quot;Liberation Sans&quot;,serif;font-size:19.33px" fill="#000" stroke="#000" stroke-width="0.3">14</text>
<line x1="600.2" y1="767.08" x2="603.2" y2="767.08" stroke="#000" stroke-width="1.1"/>
<text transform="translate(568.73 773.70) scale(0.9599 1)" style="font-family:&quot;Liberation Sans&quot;,serif;font-size:18.79px" fill="#000" stroke="#000" stroke-width="0.3">18</text>
<line x1="600.2" y1="706" x2="603.2" y2="706" stroke="#000" stroke-width="1.1"/>
<text transform="translate(569.21 712.80) scale(0.9289 1)" style="font-family:&quot;Liberation Sans&quot;,serif;font-size:19.05px" fill="#000" stroke="#000" stroke-width="0.3">22</text>
<line x1="675" y1="1013.3" x2="675" y2="1017.3" stroke="#000" stroke-width="1.1"/>
<text transform="translate(661.39 1041.72) scale(0.9323 1)" style="font-family:&quot;Liberation Sans&quot;,serif;font-size:18.50px" fill="#000" stroke="#000" stroke-width="0.3">10</text>
<text transform="translate(681.13 1035.10) scale(0.8758 1)" style="font-family:&quot;Liberation Sans&quot;,serif;font-size:13.03px" fill="#000" stroke="#000" stroke-width="0.3">2</text>
<line x1="790" y1="1013.3" x2="790" y2="1017.3" stroke="#000" stroke-width="1.1"/>
<text transform="translate(776.39 1041.72) scale(0.9323 1)" style="font-family:&quot;Liberation Sans&quot;,serif;font-size:18.50px" fill="#000" stroke="#000" stroke-width="0.3">10</text>
<text transform="translate(796.28 1034.97) scale(0.8533 1)" style="font-family:&quot;Liberation Sans&quot;,serif;font-size:12.85px" fill="#000" stroke="#000" stroke-width="0.3">3</text>
<line x1="905" y1="1013.3" x2="905" y2="1017.3" stroke="#000" stroke-width="1.1"/>
<text transform="translate(891.39 1041.72) scale(0.9323 1)" style="font-family:&quot;Liberation Sans&quot;,serif;font-size:18.50px" fill="#000" stroke="#000" stroke-width="0.3">10</text>
<text transform="translate(911.46 1035.10) scale(0.7802 1)" style="font-family:&quot;Liberation Sans&quot;,serif;font-size:13.23px" fill="#000" stroke="#000" stroke-width="0.3">4</text>
<line x1="614.87" y1="1013.3" x2="614.87" y2="1015.6" stroke="#000" stroke-width="0.9"/>
<line x1="629.24" y1="1013.3" x2="629.24" y2="1015.6" stroke="#000" stroke-width="0.9"/>
<line x1="640.38" y1="1013.3" x2="640.38" y2="1015.6" stroke="#000" stroke-width="0.9"/>
<line x1="649.49" y1="1013.3" x2="649.49" y2="1015.6" stroke="#000" stroke-width="0.9"/>
<line x1="657.19" y1="1013.3" x2="657.19" y2="1015.6" stroke="#000" stroke-width="0.9"/>
<line x1="663.86" y1="1013.3" x2="663.86" y2="1015.6" stroke="#000" stroke-width="0.9"/>
<line x1="669.74" y1="1013.3" x2="669.74" y2="1015.6" stroke="#000" stroke-width="0.9"/>
<line x1="709.62" y1="1013.3" x2="709.62" y2="1015.6" stroke="#000" stroke-width="0.9"/>
<line x1="729.87" y1="1013.3" x2="729.87" y2="1015.6" stroke="#000" stroke-width="0.9"/>
<line x1="744.24" y1="1013.3" x2="744.24" y2="1015.6" stroke="#000" stroke-width="0.9"/>
<line x1="755.38" y1="1013.3" x2="755.38" y2="1015.6" stroke="#000" stroke-width="0.9"/>
<line x1="764.49" y1="1013.3" x2="764.49" y2="1015.6" stroke="#000" stroke-width="0.9"/>
<line x1="772.19" y1="1013.3" x2="772.19" y2="1015.6" stroke="#000" stroke-width="0.9"/>
<line x1="778.86" y1="1013.3" x2="778.86" y2="1015.6" stroke="#000" stroke-width="0.9"/>
<line x1="784.74" y1="1013.3" x2="784.74" y2="1015.6" stroke="#000" stroke-width="0.9"/>
<line x1="824.62" y1="1013.3" x2="824.62" y2="1015.6" stroke="#000" stroke-width="0.9"/>
<line x1="844.87" y1="1013.3" x2="844.87" y2="1015.6" stroke="#000" stroke-width="0.9"/>
<line x1="859.24" y1="1013.3" x2="859.24" y2="1015.6" stroke="#000" stroke-width="0.9"/>
<line x1="870.38" y1="1013.3" x2="870.38" y2="1015.6" stroke="#000" stroke-width="0.9"/>
<line x1="879.49" y1="1013.3" x2="879.49" y2="1015.6" stroke="#000" stroke-width="0.9"/>
<line x1="887.19" y1="1013.3" x2="887.19" y2="1015.6" stroke="#000" stroke-width="0.9"/>
<line x1="893.86" y1="1013.3" x2="893.86" y2="1015.6" stroke="#000" stroke-width="0.9"/>
<line x1="899.74" y1="1013.3" x2="899.74" y2="1015.6" stroke="#000" stroke-width="0.9"/>
<line x1="939.62" y1="1013.3" x2="939.62" y2="1015.6" stroke="#000" stroke-width="0.9"/>
<line x1="959.87" y1="1013.3" x2="959.87" y2="1015.6" stroke="#000" stroke-width="0.9"/>
<line x1="974.24" y1="1013.3" x2="974.24" y2="1015.6" stroke="#000" stroke-width="0.9"/>
<line x1="985.38" y1="1013.3" x2="985.38" y2="1015.6" stroke="#000" stroke-width="0.9"/>
<line x1="994.49" y1="1013.3" x2="994.49" y2="1015.6" stroke="#000" stroke-width="0.9"/>
<text transform="translate(879.47 743.80) scale(1.0275 1)" style="font-family:&quot;Liberation Sans&quot;,serif;font-size:20.49px" fill="#008000" stroke="#008000" stroke-width="0.45">Potts</text>
<text transform="translate(891.98 870.47) scale(1.0210 1)" style="font-family:&quot;Liberation Sans&quot;,serif;font-size:20.38px" fill="#ff0000" stroke="#ff0000" stroke-width="0.45">Ising</text>
<text transform="translate(529.44 699.79) scale(1.0064 1)" style="font-family:&quot;Liberation Sans&quot;,serif;font-size:42.16px;font-weight:bold" fill="#000">c</text>
<g transform="rotate(-90)"><text transform="translate(-367.40 41.70) scale(1.1645 1)" style="font-family:&quot;Liberation Serif&quot;,serif;font-size:63.23px;font-style:italic" fill="#000">P</text></g>
<g transform="rotate(-90)"><text transform="translate(-329.14 50.69) scale(1.2148 1)" style="font-family:&quot;Liberation Serif&quot;,serif;font-size:43.14px" fill="#000">paramagnet</text></g>
<text transform="translate(406.56 603.00) scale(1.1232 1)" style="font-family:&quot;Liberation Serif&quot;,serif;font-size:42.76px;font-style:italic" fill="#000">L</text>
<text transform="translate(432.93 586.50) scale(1.0440 1)" style="font-family:&quot;Liberation Serif&quot;,serif;font-size:28.02px" fill="#000">1</text>
<line x1="450.8" y1="592.6" x2="461.6" y2="565.4" stroke="#000" stroke-width="1.4"/>
<path d="M466.9 573.9 L471.9 573.9 L471.9 575.1 L471.6 575.1 L467.9 586.4 L466.2 586.7 L465.7 586.2 L469.6 575.1 L466.9 575.1 Z" fill="#000"/>
<path d="M467.2 586.1 C471.5 585.2 477.2 581.5 479.9 575" fill="none" stroke="#000" stroke-width="1.15"/>
<ellipse cx="480.1" cy="575.2" rx="1.15" ry="1.3" fill="#000"/>
<text transform="translate(485.65 603.39) scale(0.9508 1)" style="font-family:&quot;Liberation Serif&quot;,serif;font-size:44.22px" fill="#000">(</text>
<text transform="translate(500.98 602.97) scale(1.0312 1)" style="font-family:&quot;Liberation Serif&quot;,serif;font-size:37.74px;font-style:italic" fill="#000">g</text>
<rect x="532.5" y="591.5" width="24.7" height="1.6" fill="#000"/>
<text transform="translate(569.98 602.97) scale(1.0988 1)" style="font-family:&quot;Liberation Serif&quot;,serif;font-size:37.74px;font-style:italic" fill="#000">g</text>
<text transform="translate(589.01 608.54) scale(1.4730 1)" style="font-family:&quot;Liberation Serif&quot;,serif;font-size:21.94px;font-style:italic" fill="#000">c</text>
<text transform="translate(605.38 603.39) scale(0.9244 1)" style="font-family:&quot;Liberation Serif&quot;,serif;font-size:44.22px" fill="#000">)</text>
<path d="M12.5 901.4 L28.3 907.6 L43.7 901.4 M12.3 773.6 L28.3 767 L44.2 773.6" fill="none" stroke="#000" stroke-width="1.1"/>
<g transform="rotate(-90)"><text transform="translate(-899.02 36.34) scale(1.2902 1)" style="font-family:&quot;Liberation Serif&quot;,serif;font-size:26.46px;font-style:italic" fill="#000">σ</text></g>
<g transform="rotate(-90)"><text transform="translate(-878.47 36.37) scale(0.8373 1)" style="font-family:&quot;Liberation Serif&quot;,serif;font-size:34.41px" fill="#000">(</text></g>
<g transform="rotate(-90)"><text transform="translate(-866.38 36.20) scale(1.0653 1)" style="font-family:&quot;Liberation Serif&quot;,serif;font-size:33.90px;font-style:italic" fill="#000">L</text></g>
<g transform="rotate(-90)"><text transform="translate(-845.94 36.37) scale(0.8487 1)" style="font-family:&quot;Liberation Serif&quot;,serif;font-size:34.41px" fill="#000">)</text></g>
<g transform="rotate(-90)"><text transform="translate(-834.31 36.63) scale(1.2127 1)" style="font-family:&quot;Liberation Serif&quot;,serif;font-size:27.98px;font-style:italic" fill="#000">σ</text></g>
<g transform="rotate(-90)"><text transform="translate(-813.72 36.71) scale(0.8522 1)" style="font-family:&quot;Liberation Serif&quot;,serif;font-size:35.18px" fill="#000">(</text></g>
<g transform="rotate(-90)"><text transform="translate(-803.39 36.58) scale(0.9553 1)" style="font-family:&quot;Liberation Serif&quot;,serif;font-size:32.60px" fill="#000">0</text></g>
<g transform="rotate(-90)"><text transform="translate(-786.63 36.71) scale(0.8190 1)" style="font-family:&quot;Liberation Serif&quot;,serif;font-size:35.18px" fill="#000">)</text></g>
<rect x="534.6" y="908.7" width="1.9" height="25.3" fill="#000"/>
<g transform="rotate(-90)"><text transform="translate(-897.62 546.43) scale(0.9313 1)" style="font-family:&quot;Liberation Serif&quot;,serif;font-size:43.86px" fill="#000">log</text></g>
<g transform="rotate(-90)"><text transform="translate(-838.55 546.80) scale(1.1195 1)" style="font-family:&quot;Liberation Serif&quot;,serif;font-size:48.02px" fill="#000">Δ</text></g>
<g transform="rotate(-90)"><text transform="translate(-802.21 546.80) scale(1.0833 1)" style="font-family:&quot;Liberation Serif&quot;,serif;font-size:46.43px;font-style:italic" fill="#000">E</text></g>
<text transform="translate(278.64 1091.30) scale(1.0804 1)" style="font-family:&quot;Liberation Serif&quot;,serif;font-size:50.50px;font-style:italic" fill="#000">L</text>
<text transform="translate(776.65 1090.90) scale(1.0957 1)" style="font-family:&quot;Liberation Serif&quot;,serif;font-size:50.50px;font-style:italic" fill="#000">L</text>
</svg>
</body></html>
